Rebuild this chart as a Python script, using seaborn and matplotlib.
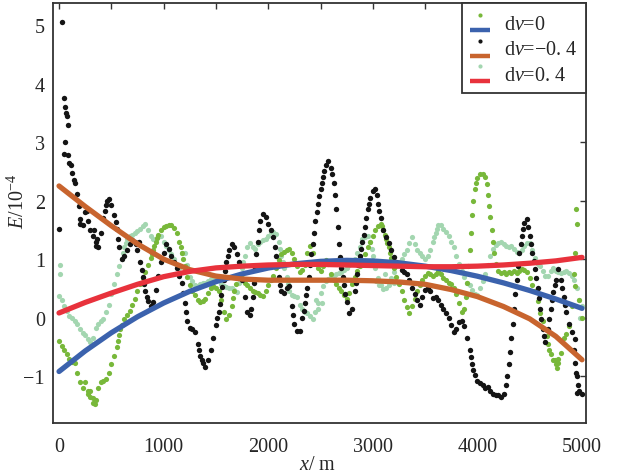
import numpy as np
import pandas as pd
import matplotlib
matplotlib.use("Agg")
import matplotlib.pyplot as plt
import seaborn as sns
from matplotlib.lines import Line2D
from matplotlib.legend_handler import HandlerBase
from matplotlib.ticker import MultipleLocator

# ---------------- data ----------------
STEP = 25  # m between samples
black_y = [1.51, 5.05, 3.76, 3.45, 2.65, 2.48, 2.3, 2.12, 1.68, 1.58,
           1.8, 1.65, 1.5, 1.4, 1.3, 1.2, 1.45, 1.7, 1.93, 2.03,
           1.93, 1.75, 1.52, 1.2, 1.0, 1.05, 1.15, 1.25, 1.32, 1.3,
           1.15, 0.95, 0.7, 0.45, 0.28, 0.2, 0.26, 0.48, 0.72, 0.95,
           1.1, 1.25, 1.17, 1.05, 0.95, 0.85, 0.72, 0.6, 0.25, -0.05,
           -0.17, -0.2, -0.25, -0.45, -0.65, -0.78, -0.85, -0.72, -0.55, -0.35,
           -0.12, 0.1, 0.38, 0.65, 0.95, 1.15, 1.26, 1.2, 1.08, 0.95,
           0.65, 0.35, 0.1, 0.05, 0.35, 0.85, 1.3, 1.65, 1.77, 1.72,
           1.6, 1.5, 1.38, 1.05, 0.7, 0.45, 0.42, 0.5, 0.54, 0.2,
           -0.1, -0.22, -0.22, 0.0, 0.25, 0.5, 0.9, 1.25, 1.65, 1.95,
           2.2, 2.4, 2.6, 2.68, 2.55, 2.3, 1.85, 1.25, 0.85, 0.55,
           0.26, 0.08, 0.15, 0.45, 0.75, 1.05, 1.3, 1.55, 1.85, 2.05,
           2.17, 2.2, 1.95, 1.7, 1.5, 1.38, 1.28, 1.15, 1.03, 0.95,
           0.9, 0.82, 0.78, 0.75, 0.65, 0.5, 0.4, 0.3, 0.22, 0.35,
           0.48, 0.5, 0.45, 0.33, 0.36, 0.3, 0.22, 0.15, 0.08, 0.0,
           -0.12, -0.25, -0.2, -0.08, -0.05, -0.15, -0.35, -0.55, -0.8, -0.98,
           -1.08, -1.12, -1.15, -1.2, -1.18, -1.25, -1.3, -1.33, -1.32, -1.36,
           -1.3, -1.15, -0.8, -0.35, 0.15, 0.65, 1.1, 1.4, 1.62, 1.68,
           1.4, 1.1, 0.83, 0.5, 0.15, -0.2, -0.42, -0.2, 0.15, 0.43,
           0.65, 0.83, 0.65, 0.35, 0.1, -0.1, -0.25, -0.55, -1.0, -1.25,
           -1.3]
black_extra_x = [55, 50, 82, 90, 110, 140, 190, 205, 265, 330, 350, 360, 740, 760,
                 440, 460, 540, 565, 790, 815, 838, 60, 70,
                 1187.5, 1212.5, 1337.5, 1362.5, 1512.5, 1537.5, 1562.5, 1587.5, 1612.5,
                 1837.5, 1862.5, 1887.5, 1912.5, 2062.5, 2087.5, 2112.5, 2237.5,
                 2337.5, 2362.5, 2387.5, 2412.5, 2437.5, 2462.5, 2487.5, 2512.5, 2537.5,
                 2612.5, 2637.5, 2662.5, 2687.5, 2712.5, 2737.5,
                 2837.5, 2862.5, 2887.5, 2912.5, 2937.5, 2962.5, 3037.5, 3062.5,
                 3937.5, 3962.5, 4287.5, 4312.5, 4337.5, 4362.5, 4387.5, 4412.5, 4437.5,
                 4487.5, 4512.5, 4537.5, 4562.5, 4587.5, 4612.5, 4637.5,
                 4687.5, 4712.5, 4737.5, 4812.5, 4837.5,
                 4930, 4940, 4955, 4937.5, 4962.5]
black_extra_y = [3.0, 2.8, 3.3, 2.78, 2.6, 2.35, 1.9, 1.6, 1.83, 1.5, 1.22, 1.35, 1.25, 1.3,
                 1.82, 2.0, 1.63, 1.35, 0.82, 0.57, 0.36, 3.6, 3.5,
                 0.42, 0.1, -0.55, -0.72, -0.01, 0.24, 0.52, 0.8, 1.05,
                 0.15, 0.6, 1.08, 1.5, 1.2, 0.88, 0.55, 0.05,
                 0.12, 0.38, 0.7, 1.08, 1.45, 1.8, 2.08, 2.3, 2.5,
                 2.45, 2.1, 1.55, 1.03, 0.7, 0.4,
                 0.6, 0.9, 1.18, 1.42, 1.7, 1.95, 2.1, 1.82,
                 -0.68, -0.9, -1.0, -0.58, -0.1, 0.4, 0.88, 1.25, 1.52,
                 1.55, 1.25, 0.97, 0.67, 0.33, -0.03, -0.32,
                 -0.03, 0.3, 0.55, 0.5, 0.22,
                 -0.37, -0.94, -1.28, -0.78, -1.15]

green_y = [-0.4, -0.48, -0.55, -0.62, -0.7, -0.75, -0.78, -0.95, -1.1, -1.2,
           -1.1, -1.25, -1.35, -1.45, -1.4, -1.2, -1.1, -1.08, -1.05, -0.95,
           -0.8, -0.65, -0.5, -0.3, -0.12, -0.02, 0.05, 0.12, 0.22, 0.32,
           0.45, 0.58, 0.68, 0.78, 0.9, 1.02, 1.15, 1.3, 1.42, 1.5,
           1.55, 1.57, 1.58, 1.58, 1.53, 1.45, 1.3, 1.1, 0.88, 0.7,
           0.55, 0.45, 0.38, 0.3, 0.26, 0.28, 0.32, 0.42, 0.5, 0.54,
           0.5, 0.45, 0.3, 0.1, -0.03, 0.05, 0.2, 0.45, 0.7, 0.72,
           0.68, 0.6, 0.55, 0.5, 0.45, 0.43, 0.42, 0.38, 0.37, 0.45,
           0.55, 0.65, 0.72, 0.85, 0.98, 1.08, 1.12, 1.15, 1.17, 1.1,
           1.0, 0.88, 0.78, 0.82, 0.9, 1.1, 1.22, 1.1, 0.95, 0.85,
           0.8, 0.88, 0.98, 0.92, 0.75, 0.65, 0.58, 0.5, 0.45, 0.38,
           0.32, 0.42, 0.58, 0.7, 0.8, 0.88, 0.95, 1.08, 1.2, 1.3,
           1.4, 1.5, 1.57, 1.6, 1.5, 1.35, 1.2, 1.02, 0.85, 0.7,
           0.58, 0.45, 0.3, 0.18, 0.08, 0.2, 0.32, 0.45, 0.55, 0.65,
           0.72, 0.77, 0.74, 0.71, 0.75, 0.8, 0.75, 0.68, 0.64, 0.6,
           0.57, 0.5, 0.4, 0.25, 0.09, 0.15, 0.6, 1.15, 1.75, 2.2,
           2.38, 2.45, 2.45, 2.4, 2.1, 1.72, 1.3, 0.92, 0.8, 0.77,
           0.78, 0.75, 0.78, 0.76, 0.8, 0.77, 0.8, 0.83, 0.82, 0.78,
           0.68, 0.55, 0.45, 0.28, 0.08, -0.05, -0.2, -0.45, -0.62, -0.72,
           -0.8, -0.78, -0.6, -0.35, -0.28, -0.15, 0.2, 0.75, 1.6, 0.3,
           0.0]
green_extra_x = [280, 300, 320, 340, 4740, 4760, 4770, 4935, 4940, 4930,
                 562.5, 587.5, 887.5, 912.5, 937.5, 1162.5, 1187.5, 1212.5, 1662.5, 1687.5,
                 3087.5, 3112.5, 3137.5, 3162.5, 3187.5,
                 3887.5, 3912.5, 3937.5, 3962.5, 3987.5, 4087.5, 4112.5, 4137.5, 4162.5,
                 4662.5, 4687.5]
green_extra_y = [-1.3, -1.25, -1.38, -1.48, -0.72, -0.86, -0.7, 1.11, 1.85, 0.54,
                 -0.4, -0.2, 1.08, 1.22, 1.36, 1.2, 1.0, 0.8, 0.33, 0.58,
                 1.56, 1.42, 1.28, 1.1, 0.94,
                 0.35, 0.88, 1.45, 2.0, 2.3, 2.28, 1.9, 1.5, 1.1,
                 -0.32, -0.55]

light_y = [0.37, 0.3, 0.2, 0.12, 0.03, 0.0, -0.05, -0.1, -0.2, -0.26,
           -0.3, -0.36, -0.42, -0.35, -0.18, -0.1, -0.05, -0.03, 0.1, 0.22,
           0.4, 0.58, 0.75, 0.88, 1.0, 1.2, 1.35, 1.4, 1.42, 1.45,
           1.48, 1.52, 1.57, 1.6, 1.5, 1.4, 1.35, 1.32, 1.38, 1.4,
           1.3, 1.23, 1.15, 1.08, 1.0, 0.9, 0.85, 1.1, 1.1, 0.9,
           0.7, 0.62, 0.55, 0.54, 0.57, 0.6, 0.6, 0.62, 0.66, 0.7,
           0.71, 0.65, 0.58, 0.54, 0.52, 0.51, 0.5, 0.47, 0.43, 0.6,
           0.85, 1.05, 1.2, 1.28, 1.2, 1.18, 1.25, 1.3, 1.33, 1.34,
           1.4, 1.46, 1.46, 1.43, 1.3, 1.05, 0.85, 0.7, 0.45, 0.38,
           0.37, 0.36, 0.22, 0.15, 0.1, 0.08, 0.02, -0.03, 0.1, 0.25,
           0.42, 0.54, 0.62, 0.66, 0.7, 0.72, 0.75, 0.77, 0.78, 0.82,
           0.85, 0.9, 0.93, 1.0, 1.1, 1.2, 1.35, 1.38, 1.4, 1.3,
           1.05, 0.85, 0.68, 0.55, 0.49, 0.5, 0.55, 0.68, 0.78, 0.88,
           0.95, 1.0, 1.08, 1.15, 1.28, 1.38, 1.25, 1.15, 1.1, 1.05,
           1.0, 1.05, 1.15, 1.3, 1.45, 1.58, 1.58, 1.52, 1.47, 1.4,
           1.3, 1.2, 1.05, 0.92, 0.8, 0.7, 0.6, 0.55, 0.48, 0.4,
           0.38, 0.5, 0.62, 0.74, 0.9, 1.05, 1.17, 1.24, 1.28, 1.29,
           1.25, 1.22, 1.2, 1.22, 1.18, 1.12, 1.1, 1.15, 1.22, 1.28,
           1.28, 1.15, 1.02, 0.92, 0.88, 0.8, 0.72, 0.72, 0.8, 0.85,
           0.8, 0.78, 0.77, 0.78, 0.8, 0.76, 0.72, 0.65, 0.5, 0.3,
           0.2]
light_extra_x = [10, 12, 2460, 2480, 2510, 3030, 3060, 3120, 3200, 4980,
                 612.5, 637.5, 1737.5, 1762.5, 2112.5, 2137.5, 2187.5, 2987.5, 3012.5,
                 3587.5, 3612.5]
light_extra_y = [0.9, 0.75, 0.3, 0.15, 0.25, 0.63, 0.55, 0.75, 0.6, 0.0,
                 1.1, 1.28, 0.72, 0.95, 1.18, 0.95, 0.58, 1.18, 0.95,
                 1.38, 1.52]

FIT_STEP = 250
blue_fit = [-0.92, -0.569, -0.258, 0.015, 0.25, 0.45, 0.615, 0.747, 0.848, 0.919,
            0.962, 0.979, 0.969, 0.937, 0.88, 0.804, 0.708, 0.594, 0.464, 0.318, 0.159]
orange_fit = [2.25, 1.9, 1.57, 1.26, 1.0, 0.82, 0.71, 0.66, 0.64, 0.64,
              0.64, 0.64, 0.63, 0.61, 0.57, 0.48, 0.36, 0.19, -0.02, -0.32, -0.72]
red_fit = [0.08, 0.26, 0.42, 0.57, 0.7, 0.79, 0.85, 0.88, 0.9, 0.91,
           0.91, 0.9, 0.89, 0.88, 0.87, 0.87, 0.88, 0.9, 0.93, 0.97, 1.03]

labels = ["d$v$=0", "d$v$=\u22120. 4", "d$v$=0. 4"]

C_GREEN = "#78b83a"
C_LIGHT = "#a3d6b0"
C_BLACK = "#141414"
C_BLUE = "#3b62ad"
C_ORANGE = "#c8642e"
C_RED = "#e8323c"

# ---------------- style ----------------
sns.set_style("white")
plt.rcParams["font.family"] = ["Liberation Serif", "DejaVu Serif"]
plt.rcParams["mathtext.fontset"] = "custom"
plt.rcParams["mathtext.rm"] = "Liberation Serif"
plt.rcParams["mathtext.it"] = "Liberation Serif:italic"
plt.rcParams["axes.unicode_minus"] = True

def series_df(vals, ex_x, ex_y):
    x = list(np.arange(len(vals)) * STEP) + list(ex_x)
    y = list(vals) + list(ex_y)
    return pd.DataFrame({"x": x, "y": y})

fig = plt.figure(figsize=(6.21, 4.77), dpi=100)
ax = fig.add_axes([0.0858, 0.1111, 0.8573, 0.8805])

d_light = series_df(light_y, light_extra_x, light_extra_y)
d_green = series_df(green_y, green_extra_x, green_extra_y)
d_black = series_df(black_y, black_extra_x, black_extra_y)

sns.scatterplot(data=d_light, x="x", y="y", ax=ax, color=C_LIGHT, s=14, linewidth=0, zorder=2)
sns.scatterplot(data=d_green, x="x", y="y", ax=ax, color=C_GREEN, s=14, linewidth=0, zorder=3)
sns.scatterplot(data=d_black, x="x", y="y", ax=ax, color=C_BLACK, s=15, linewidth=0, zorder=4)

xf = np.arange(len(blue_fit)) * FIT_STEP
for vals, col in [(blue_fit, C_BLUE), (orange_fit, C_ORANGE), (red_fit, C_RED)]:
    sns.lineplot(x=xf[:len(vals)], y=vals, ax=ax, color=col, linewidth=3.8,
                 zorder=6, errorbar=None, sort=False)

ax.set_xlim(-55, 5035)
ax.set_ylim(-1.80, 5.376)

ax.xaxis.set_major_locator(MultipleLocator(1000))
ax.xaxis.set_minor_locator(MultipleLocator(500))
ax.yaxis.set_major_locator(MultipleLocator(1))
ax.tick_params(axis="both", which="both", direction="in", top=True, right=True,
               length=4, width=1.0, color="#333333")
ax.tick_params(axis="x", which="major", labelsize=14.5, pad=10)
ax.tick_params(axis="y", which="major", labelsize=14.5, pad=6)
for sp in ax.spines.values():
    sp.set_visible(True)
    sp.set_linewidth(1.3)
    sp.set_color("#333333")

ax.set_xlabel("$x$/ m", fontsize=14.5)
ax.set_ylabel("$E$/10$^{-4}$", fontsize=14.5)
ax.xaxis.set_label_coords(0.497, -0.077)
ax.yaxis.set_label_coords(-0.046, 0.53)

# legend: dot row above a line row, label to the right
class DotLineHandler(HandlerBase):
    def create_artists(self, legend, orig_handle, xdescent, ydescent, width,
                       height, fontsize, trans):
        dcol, lcol = orig_handle
        cx = width / 2 - xdescent
        dot = Line2D([cx], [0.66 * fontsize], marker="o", linestyle="none",
                     markersize=3.0, markerfacecolor=dcol, markeredgewidth=0,
                     transform=trans)
        ly = -0.08 * fontsize
        ln = Line2D([-xdescent, -xdescent + width], [ly, ly],
                    color=lcol, linewidth=3.2, solid_capstyle="butt", transform=trans)
        return [dot, ln]

handles = [(C_GREEN, C_BLUE), (C_BLACK, C_ORANGE), (C_LIGHT, C_RED)]
leg = ax.legend(handles, labels, handler_map={tuple: DotLineHandler()},
                loc="upper right", bbox_to_anchor=(1.0, 1.0), borderaxespad=0,
                fontsize=14.5, frameon=True, fancybox=False, framealpha=1,
                edgecolor="#333333", handlelength=0.95, handleheight=1.2,
                handletextpad=0.7, labelspacing=0.17, borderpad=0.42)
leg.get_frame().set_linewidth(1.3)
leg.set_zorder(10)

fig.savefig("out.png", dpi=100)
